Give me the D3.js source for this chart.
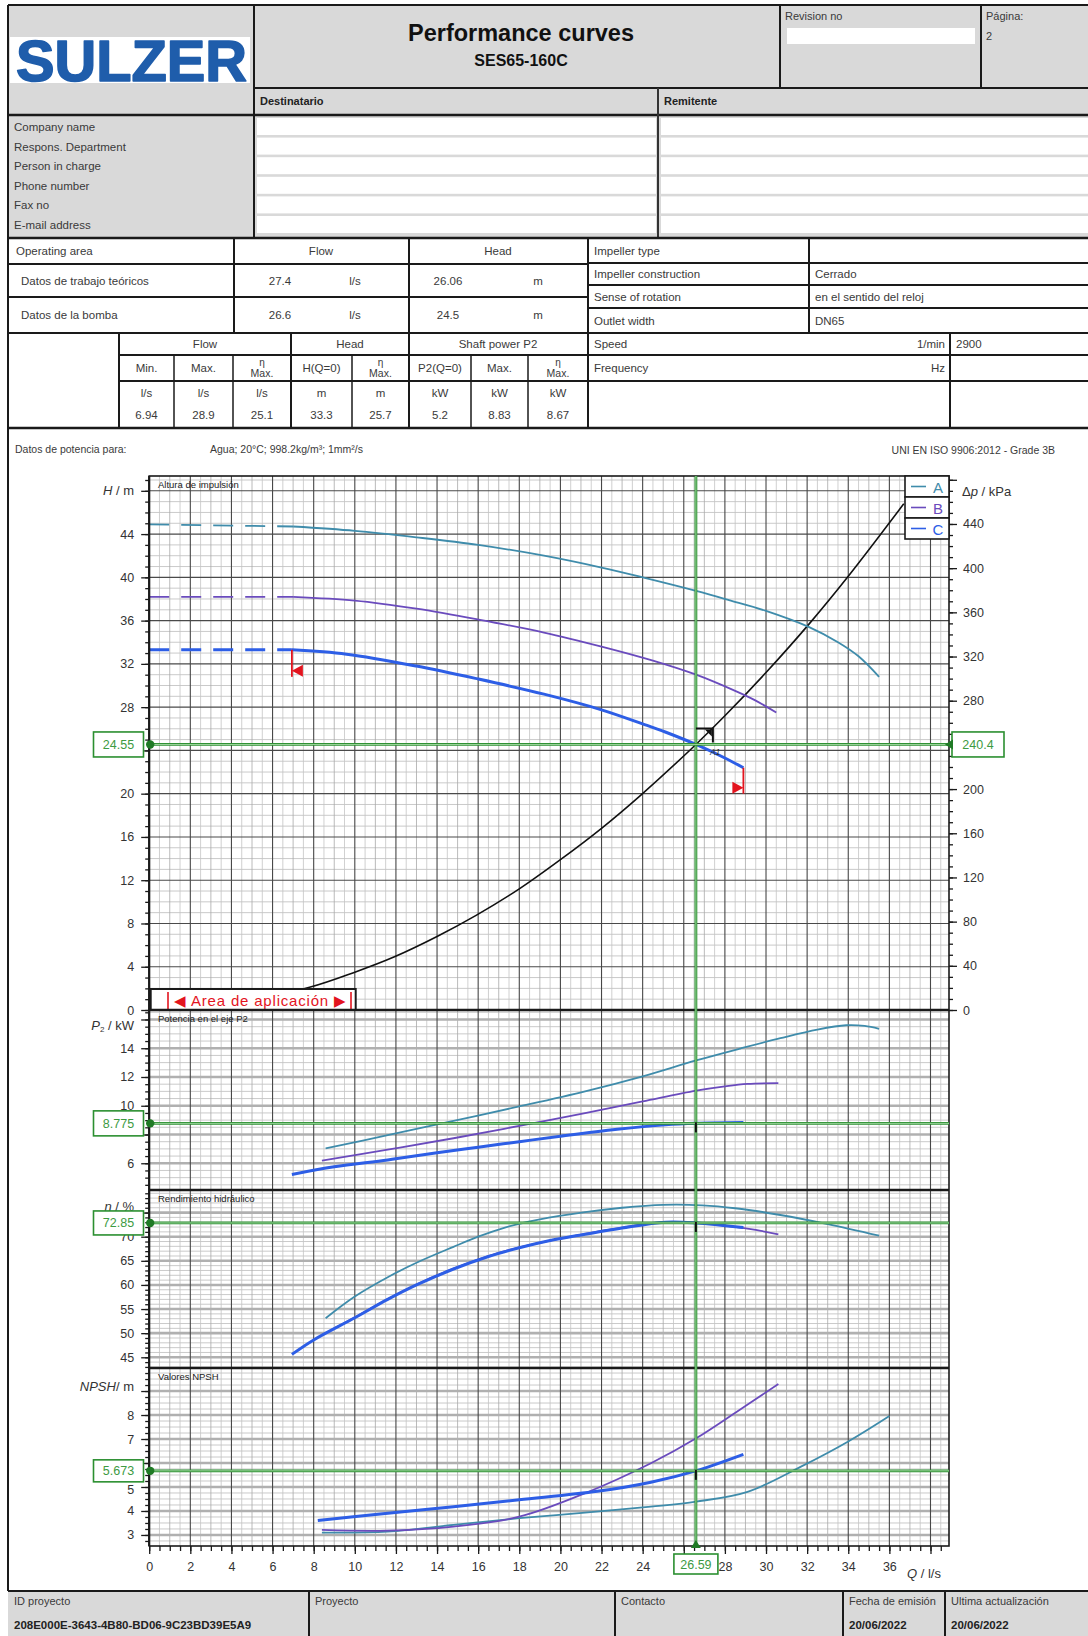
<!DOCTYPE html>
<html>
<head>
<meta charset="utf-8">
<script src="https://cdn.jsdelivr.net/npm/d3@7"></script>
<style>
  body { margin: 0; background: #fff; }
  svg { display: block; }
  text { font-family: "Liberation Sans", Arial, sans-serif; }
</style>
</head>
<body>
<script>
// ---------------- data ----------------
// labelled ticks (labels sitting under a value box are left out)
const flowTicks = [0, 2, 4, 6, 8, 10, 12, 14, 16, 18, 20, 22, 24, 28, 30, 32, 34, 36];
const headTicks = [0, 4, 8, 12, 16, 20, 28, 32, 36, 40, 44];
const dpTicks = [0, 40, 80, 120, 160, 200, 280, 320, 360, 400, 440];
const powerTicks = [6, 10, 12, 14];
const effTicks = [45, 50, 55, 60, 65, 70];
const npshTicks = [3, 4, 5, 7, 8];

const seriesNames = ["A", "B", "C"];
const seriesColors = ["#3f8cab", "#6a4bbd", "#2d5ee6"];

// head curves: shut-off part (dashed) and working range (solid), [Q l/s, H m]
const headShutoffA = [[0, 44.9], [7.0, 44.7]];
const headShutoffB = [[0, 38.2], [7.0, 38.2]];
const headShutoffC = [[0, 33.3], [6.94, 33.3]];
const headA = [[7.0, 44.7], [10, 44.3], [13, 43.7], [16, 43.0], [19.2, 42.0], [22, 40.9], [24, 40.0], [26.6, 38.75], [28.2, 37.9], [30, 36.9], [32.1, 35.4], [33.5, 34.0], [34.5, 32.7], [35.5, 30.8]];
const headB = [[7.0, 38.2], [10, 37.85], [13, 37.1], [16, 36.1], [19.2, 34.9], [22, 33.6], [24.5, 32.3], [26.6, 31.0], [28.5, 29.5], [29.5, 28.6], [30.5, 27.5]];
const headC = [[6.94, 33.3], [9.6, 32.9], [13, 31.8], [16, 30.6], [19.2, 29.2], [22, 27.75], [24, 26.45], [25.1, 25.7], [26.59, 24.55], [28, 23.3], [28.9, 22.4]];

// system curve, [Q l/s, H m]
const systemCurve = [[0, 0], [4, 0.55], [7.8, 2.1], [10, 3.5], [11.9, 4.9], [14, 6.8], [15.9, 8.75], [18, 11.2], [20, 13.9], [22, 16.8], [23.9, 19.85], [26.59, 24.55], [28, 27.2], [30, 31.2], [32.1, 35.7], [34, 40.1], [36.7, 46.8]];

// shaft power P2, [Q l/s, P kW]
const powerA = [[8.58, 7.04], [11.6, 7.95], [14.8, 8.95], [18, 9.95], [21.2, 11.0], [24, 12.05], [26.6, 13.15], [28.8, 14.0], [30.7, 14.7], [32.5, 15.3], [33.9, 15.6], [34.8, 15.55], [35.5, 15.35]];
const powerB = [[8.4, 6.18], [11.6, 6.95], [14.8, 7.74], [18, 8.6], [21.2, 9.48], [24, 10.3], [26.6, 11.05], [28, 11.35], [29.1, 11.52], [30.6, 11.57]];
const powerC = [[6.94, 5.22], [9, 5.75], [11.6, 6.23], [14, 6.73], [16, 7.12], [18, 7.5], [20, 7.88], [22.76, 8.36], [25.1, 8.67], [26.59, 8.775], [28.9, 8.83]];

// hydraulic efficiency, [Q l/s, eta %]
const effA = [[8.58, 53.1], [10, 57.6], [11.6, 61.6], [13, 64.6], [14.8, 67.9], [16, 70.0], [17.3, 71.9], [19, 73.6], [21.2, 75.1], [23, 76.0], [25, 76.6], [26.9, 76.5], [28.5, 75.9], [30.7, 74.5], [33, 72.6], [35.5, 70.2]];
const effB = [[8.4, 49.6], [10, 53.3], [11.6, 57.1], [13, 60.1], [14.8, 63.4], [16.5, 66.0], [18, 67.8], [21.2, 70.6], [23, 71.9], [25, 73.0], [26.6, 72.9], [28, 72.3], [29.5, 71.4], [30.6, 70.5]];
const effC = [[6.94, 45.6], [8, 48.6], [10, 53.2], [11.6, 57.0], [13, 60.0], [14.8, 63.3], [16.5, 65.9], [18, 67.7], [19.5, 69.2], [21.2, 70.5], [23, 71.8], [25.1, 73.0], [26.59, 72.85], [28.9, 71.9]];

// NPSH required, [Q l/s, NPSH m]
const npshA = [[8.4, 3.1], [11.6, 3.14], [14.8, 3.42], [18, 3.7], [21.2, 3.93], [24.4, 4.18], [26.6, 4.39], [29.1, 4.8], [31.7, 5.85], [34, 6.9], [36, 7.96]];
const npshB = [[8.4, 3.21], [11.6, 3.18], [14.8, 3.35], [18, 3.76], [21.2, 4.74], [24.4, 5.99], [26.6, 7.03], [28.6, 8.15], [30.6, 9.29]];
const npshC = [[8.2, 3.6], [11, 3.85], [14.8, 4.18], [18, 4.47], [21.8, 4.82], [24.4, 5.2], [26.59, 5.673], [28.9, 6.36]];

// duty point
const opFlow = 26.59, opHead = 24.55, opDp = 240.4, opPower = 8.775, opEff = 72.85, opNpsh = 5.673;
const minFlow = 6.94, maxFlow = 28.9;

// document texts
const contactFields = ["Company name", "Respons. Department", "Person in charge", "Phone number", "Fax no", "E-mail address"];
const dutyRows = [["Datos de trabajo teóricos", "27.4", "l/s", "26.06", "m"], ["Datos de la bomba", "26.6", "l/s", "24.5", "m"]];
const limitHeads = ["Min.", "Max.", "η|Max.", "H(Q=0)", "η|Max.", "P2(Q=0)", "Max.", "η|Max."];
const limitUnits = ["l/s", "l/s", "l/s", "m", "m", "kW", "kW", "kW"];
const limitValues = ["6.94", "28.9", "25.1", "33.3", "25.7", "5.2", "8.83", "8.67"];
const pumpInfo = [["Impeller type", ""], ["Impeller construction", "Cerrado"], ["Sense of rotation", "en el sentido del reloj"], ["Outlet width", "DN65"]];
const driveInfo = [["Speed", "1/min", "2900"], ["Frequency", "Hz", ""]];
const footerCells = [["ID proyecto", "208E000E-3643-4B80-BD06-9C23BD39E5A9"], ["Proyecto", ""], ["Contacto", ""], ["Fecha de emisión", "20/06/2022"], ["Ultima actualización", "20/06/2022"]];

// ---------------- drawing helpers ----------------
const svg = d3.select("body").append("svg").attr("width", 1088).attr("height", 1636);
const ink = "#1a1a1a";
function rect(g, x, y, w, h, fill, stroke, sw) {
  return g.append("rect").attr("x", x).attr("y", y).attr("width", w).attr("height", h)
    .attr("fill", fill || "none").attr("stroke", stroke || "none").attr("stroke-width", sw || 1);
}
function line(g, x1, y1, x2, y2, stroke, sw) {
  return g.append("line").attr("x1", x1).attr("y1", y1).attr("x2", x2).attr("y2", y2)
    .attr("stroke", stroke || ink).attr("stroke-width", sw || 1);
}
function label(g, x, y, s, size, opts) {
  opts = opts || {};
  return g.append("text").attr("x", x).attr("y", y).text(s)
    .attr("font-size", size).attr("fill", opts.fill || "#3a3a3a")
    .attr("font-weight", opts.bold ? "bold" : null)
    .attr("font-style", opts.italic ? "italic" : null)
    .attr("text-anchor", opts.anchor || "start")
    .attr("dominant-baseline", "central");
}

// ---------------- header ----------------
const hdr = svg.append("g");
rect(hdr, 8, 5, 1090, 233, "#d9d9d9");
rect(hdr, 10, 37, 240, 46, "#ffffff");
hdr.append("text").attr("x", 16).attr("y", 81).text("SULZER")
  .attr("font-family", "'DejaVu Sans', sans-serif").attr("font-weight", "900")
  .attr("font-size", 58).attr("fill", "#1f5dab")
  .attr("stroke", "#1f5dab").attr("stroke-width", 1.6).attr("stroke-linejoin", "round")
  .attr("textLength", 231).attr("lengthAdjust", "spacingAndGlyphs");
label(hdr, 521, 33, "Performance curves", 23.5, { bold: true, anchor: "middle", fill: "#111" });
label(hdr, 521, 60, "SES65-160C", 16, { bold: true, anchor: "middle", fill: "#111" });
label(hdr, 785, 16, "Revision no", 11);
rect(hdr, 787, 28, 188, 16, "#ffffff");
label(hdr, 986, 16, "Página:", 11);
label(hdr, 986, 36, "2", 11);
label(hdr, 260, 101, "Destinatario", 11, { bold: true, fill: "#222" });
label(hdr, 664, 101, "Remitente", 11, { bold: true, fill: "#222" });
contactFields.forEach((f, i) => {
  const y0 = 118 + i * 19.6;
  rect(hdr, 257, y0, 399, 17, "#ffffff");
  rect(hdr, 661, y0, 430, 17, "#ffffff");
  label(hdr, 14, y0 + 9, f, 11.5);
});
line(hdr, 8, 5, 1090, 5, ink, 2);
line(hdr, 8, 5, 8, 238, ink, 2);
line(hdr, 254, 5, 254, 238, ink, 2);
line(hdr, 780, 5, 780, 88, ink, 2);
line(hdr, 981, 5, 981, 88, ink, 2);
line(hdr, 254, 88, 1090, 88, ink, 2);
line(hdr, 8, 115, 1090, 115, ink, 2.5);
line(hdr, 658, 88, 658, 238, "#333", 2);

// ---------------- data table ----------------
const tb = svg.append("g");
rect(tb, 8, 238, 1090, 190, "#ffffff");
const ts = 11.5;
label(tb, 16, 251, "Operating area", ts);
label(tb, 321, 251, "Flow", ts, { anchor: "middle" });
label(tb, 498, 251, "Head", ts, { anchor: "middle" });
dutyRows.forEach((r, i) => {
  const yc = i === 0 ? 280.5 : 315;
  label(tb, 21, yc, r[0], ts);
  label(tb, 280, yc, r[1], ts, { anchor: "middle" });
  label(tb, 355, yc, r[2], ts, { anchor: "middle" });
  label(tb, 448, yc, r[3], ts, { anchor: "middle" });
  label(tb, 538, yc, r[4], ts, { anchor: "middle" });
});
const colEdges = [119, 174, 233, 291, 352, 409, 471, 528, 588];
label(tb, 205, 344, "Flow", ts, { anchor: "middle" });
label(tb, 350, 344, "Head", ts, { anchor: "middle" });
label(tb, 498, 344, "Shaft power P2", ts, { anchor: "middle" });
limitHeads.forEach((h, i) => {
  const cx = (colEdges[i] + colEdges[i + 1]) / 2;
  const parts = h.split("|");
  if (parts.length === 2) {
    label(tb, cx, 362, parts[0], 10, { anchor: "middle" });
    label(tb, cx, 373, parts[1], 10.5, { anchor: "middle" });
  } else {
    label(tb, cx, 368, h, ts, { anchor: "middle" });
  }
  label(tb, cx, 393, limitUnits[i], ts, { anchor: "middle" });
  label(tb, cx, 415, limitValues[i], ts, { anchor: "middle" });
});
const rowY = [239, 263, 285, 308, 333, 355, 381];
pumpInfo.forEach((r, i) => {
  const yc = (rowY[i] + rowY[i + 1]) / 2;
  label(tb, 594, yc, r[0], ts);
  label(tb, 815, yc, r[1], ts);
});
driveInfo.forEach((r, i) => {
  const yc = (rowY[i + 4] + rowY[i + 5]) / 2;
  label(tb, 594, yc, r[0], ts);
  label(tb, 945, yc, r[1], ts, { anchor: "end" });
  label(tb, 956, yc, r[2], ts);
});
// table rules
line(tb, 8, 238, 1090, 238, ink, 2.5);
[264, 297, 333].forEach(y => line(tb, 8, y, 588, y, ink, 2));
[355, 381].forEach(y => line(tb, 119, y, 588, y, ink, 2));
[263, 285, 308, 333, 355, 381].forEach(y => line(tb, 588, y, 1090, y, ink, 2));
line(tb, 8, 428, 1090, 428, ink, 2.5);
line(tb, 234, 238, 234, 333, ink, 2);
line(tb, 409, 238, 409, 428, ink, 2);
line(tb, 588, 238, 588, 428, ink, 2);
line(tb, 119, 333, 119, 428, ink, 2);
line(tb, 291, 333, 291, 428, ink, 2);
[174, 233, 352, 471, 528].forEach(xv => line(tb, xv, 355, xv, 428, ink, 1.5));
line(tb, 809, 238, 809, 333, ink, 2);
line(tb, 950, 333, 950, 428, ink, 2);
line(tb, 8, 238, 8, 1591, ink, 2);

label(svg, 15, 449, "Datos de potencia para:", 10.5);
label(svg, 210, 449, "Agua; 20°C; 998.2kg/m³; 1mm²/s", 10.5);
label(svg, 1055, 450, "UNI EN ISO 9906:2012 - Grade 3B", 10.5, { anchor: "end" });

// ---------------- chart scales ----------------
const x = d3.scaleLinear().domain([0, 38.9]).range([149.2, 949]);
const yH = d3.scaleLinear().domain([0, 49.37]).range([1010, 476]);
const yDp = d3.scaleLinear().domain([0, 49.37 * 9.792]).range([1010, 476]);
const yP = d3.scaleLinear().domain([4.14, 16.66]).range([1190, 1010]);
const yE = d3.scaleLinear().domain([42.78, 79.68]).range([1368, 1190]);
const yN = d3.scaleLinear().domain([2.54, 9.96]).range([1546, 1368]);
const xL = x.range()[0], xR = x.range()[1];

const panels = [
  { y: yH, minor: 1, major: 4, bandMajor: false, ticks: headTicks, title: "Altura de impulsión" },
  { y: yP, minor: 0.5, major: 2, bandMajor: true, ticks: powerTicks, title: "Potencia en el eje P2" },
  { y: yE, minor: 1, major: 5, bandMajor: true, ticks: effTicks, title: "Rendimiento hidráulico" },
  { y: yN, minor: 0.25, major: 1, bandMajor: true, ticks: npshTicks, title: "Valores NPSH" }
];

const grid = svg.append("g");
rect(grid, xL, 476, xR - xL, 1546 - 476, "#ffffff");
panels.forEach(p => {
  const [lo, hi] = p.y.domain();
  const top = p.y.range()[1], bot = p.y.range()[0];
  const vals = d3.range(Math.ceil(lo / p.minor) * p.minor, hi, p.minor).map(v => +v.toFixed(3));
  const isMajor = v => Math.abs(v / p.major - Math.round(v / p.major)) < 1e-6;
  vals.filter(v => !isMajor(v)).forEach(v => line(grid, xL, p.y(v), xR, p.y(v), "#bdbdbd", 0.8));
  d3.range(0.5, 38.9, 0.5).forEach(q => {
    if (q % 2 === 0) return;
    line(grid, x(q), top, x(q), bot, q % 1 === 0 ? "#a8a8a8" : "#c4c4c4", 0.8);
  });
  vals.filter(isMajor).forEach(v => {
    if (p.bandMajor) line(grid, xL, p.y(v), xR, p.y(v), "#b0b0b0", 2.6);
    else line(grid, xL, p.y(v), xR, p.y(v), "#4a4a4a", 1.1);
  });
  d3.range(2, 38.9, 2).forEach(q => line(grid, x(q), top, x(q), bot, "#474747", 1.1));
  label(grid, 158, top + 8, p.title, 9.5, { fill: "#222" });
});

// ---------------- axes ----------------
function styleAxis(g, size, color) {
  g.select(".domain").remove();
  g.selectAll(".tick line").attr("stroke", ink).attr("stroke-width", 1.3);
  g.selectAll(".tick text").attr("font-size", size).attr("fill", color || "#333")
    .attr("font-family", "'Liberation Sans', Arial, sans-serif");
}
const axes = svg.append("g");
panels.forEach(p => {
  const [lo, hi] = p.y.domain();
  const minorVals = d3.range(Math.ceil(lo / p.minor) * p.minor, hi, p.minor);
  const gm = axes.append("g").attr("transform", `translate(${xL},0)`)
    .call(d3.axisLeft(p.y).tickValues(minorVals).tickSize(4).tickFormat(""));
  styleAxis(gm, 12);
  const majorVals = d3.range(Math.ceil(lo / p.major) * p.major, hi, p.major);
  const gM = axes.append("g").attr("transform", `translate(${xL},0)`)
    .call(d3.axisLeft(p.y).tickValues(majorVals).tickSize(8).tickFormat(""));
  styleAxis(gM, 12);
  const gl = axes.append("g").attr("transform", `translate(${xL},0)`)
    .call(d3.axisLeft(p.y).tickValues(p.ticks).tickSize(0).tickPadding(15));
  styleAxis(gl, 12.5);
  // the NPSH "5" sits just under the duty value box
  if (p.y === yN) gl.selectAll(".tick text").filter(d => d === 5).attr("dy", "0.5em");
});
// right pressure axis
const gr1 = axes.append("g").attr("transform", `translate(${xR},0)`)
  .call(d3.axisRight(yDp).tickValues(d3.range(0, 481, 10)).tickSize(4).tickFormat(""));
styleAxis(gr1, 12);
const gr2 = axes.append("g").attr("transform", `translate(${xR},0)`)
  .call(d3.axisRight(yDp).tickValues(d3.range(0, 481, 40)).tickSize(8).tickFormat(""));
styleAxis(gr2, 12);
const gr3 = axes.append("g").attr("transform", `translate(${xR},0)`)
  .call(d3.axisRight(yDp).tickValues(dpTicks).tickSize(0).tickPadding(14));
styleAxis(gr3, 12.5);
// bottom flow axis
const gb1 = axes.append("g").attr("transform", `translate(0,1546)`)
  .call(d3.axisBottom(x).tickValues(d3.range(0, 38.9, 0.5)).tickSize(5).tickFormat(""));
styleAxis(gb1, 12);
const gb2 = axes.append("g").attr("transform", `translate(0,1546)`)
  .call(d3.axisBottom(x).tickValues(d3.range(0, 38.9, 2)).tickSize(8).tickFormat(""));
styleAxis(gb2, 12);
const gb3 = axes.append("g").attr("transform", `translate(0,1546)`)
  .call(d3.axisBottom(x).tickValues(flowTicks).tickSize(0).tickPadding(16));
styleAxis(gb3, 12.5);

// axis titles
function unitLabel(xp, yp, anchor, parts) {
  const t = axes.append("text").attr("x", xp).attr("y", yp).attr("text-anchor", anchor)
    .attr("dominant-baseline", "central").attr("font-size", 13).attr("fill", "#333");
  parts.forEach(pp => {
    const ts = t.append("tspan").text(pp.t);
    if (pp.i) ts.attr("font-style", "italic");
    if (pp.sub) ts.attr("font-size", 8).attr("baseline-shift", "sub");
  });
}
unitLabel(134, yH(48) - 1, "end", [{ t: "H", i: true }, { t: " / m" }]);
unitLabel(962, yH(48), "start", [{ t: "Δ" }, { t: "p", i: true }, { t: " / kPa" }]);
unitLabel(134, yP(15.6), "end", [{ t: "P", i: true }, { t: "2", sub: true }, { t: " / kW" }]);
unitLabel(134, yE(76.3), "end", [{ t: "η", i: true }, { t: " / %" }]);
unitLabel(134, yN(9.22), "end", [{ t: "NPSH", i: true }, { t: "/ m" }]);
unitLabel(924, 1573, "middle", [{ t: "Q", i: true }, { t: " / l/s" }]);

// ---------------- curves ----------------
const curves = svg.append("g");
function drawCurve(data, yScale, color, width, dash) {
  const gen = d3.line().x(d => x(d[0])).y(d => yScale(d[1])).curve(d3.curveCatmullRom.alpha(0.5));
  curves.append("path").datum(data).attr("d", gen).attr("fill", "none")
    .attr("stroke", color).attr("stroke-width", width)
    .attr("stroke-dasharray", dash || null).attr("stroke-linecap", "butt");
}
// system curve
drawCurve(systemCurve, yH, "#111", 1.6);
[[headShutoffA, headA], [headShutoffB, headB], [headShutoffC, headC]].forEach((pair, i) => {
  const w = i === 2 ? 3 : 1.8;
  drawCurve(pair[0], yH, seriesColors[i], w, "20,12");
  drawCurve(pair[1], yH, seriesColors[i], w);
});
[[powerA, effA, npshA], [powerB, effB, npshB], [powerC, effC, npshC]].forEach((set, i) => {
  const w = i === 2 ? 3 : 1.8;
  drawCurve(set[0], yP, seriesColors[i], w);
  drawCurve(set[1], yE, seriesColors[i], w);
  drawCurve(set[2], yN, seriesColors[i], w);
});

// operating range limits on the head curve
const red = "#e3141e";
const hMinStart = headC[0][1], hMaxEnd = headC[headC.length - 1][1];
line(curves, x(minFlow), yH(hMinStart), x(minFlow), yH(hMinStart) + 27, red, 1.8);
curves.append("path").attr("fill", red)
  .attr("d", `M${x(minFlow)},${yH(hMinStart) + 21} L${x(minFlow) + 11},${yH(hMinStart) + 15} L${x(minFlow) + 11},${yH(hMinStart) + 27} Z`);
line(curves, x(maxFlow), yH(hMaxEnd), x(maxFlow), yH(hMaxEnd) + 26, red, 1.8);
curves.append("path").attr("fill", red)
  .attr("d", `M${x(maxFlow)},${yH(hMaxEnd) + 20} L${x(maxFlow) - 11},${yH(hMaxEnd) + 14} L${x(maxFlow) - 11},${yH(hMaxEnd) + 26} Z`);

// application area tag
const ag = svg.append("g");
rect(ag, xL + 1.5, 989, 205, 21, "#ffffff", ink, 2);
ag.append("text").attr("x", 260).attr("y", 1000).attr("text-anchor", "middle")
  .attr("dominant-baseline", "central").attr("font-size", 15).attr("fill", red)
  .attr("font-family", "'Liberation Sans', 'DejaVu Sans', sans-serif")
  .attr("textLength", 172).attr("lengthAdjust", "spacing")
  .text("◀ Area de aplicación ▶");
line(ag, 168, 992, 168, 1009, red, 1.6);
line(ag, 351, 992, 351, 1009, red, 1.6);

// panel frames
const frame = svg.append("g");
rect(frame, xL, 476, xR - xL, 1546 - 476, "none", ink, 1.6);
[1010, 1190, 1368].forEach(y => line(frame, xL, y, xR, y, ink, 2.6));
line(frame, xL, 476, xL, 1546, ink, 2.2);

// legend
const lg = svg.append("g");
seriesNames.forEach((n, i) => {
  const y0 = 476 + i * 21;
  rect(lg, 905, y0, 44, 21, "#ffffff", ink, 1.6);
  line(lg, 911, y0 + 10.5, 926, y0 + 10.5, seriesColors[i], 1.6);
  label(lg, 938, y0 + 11, n, 15, { anchor: "middle", fill: seriesColors[i] });
});

// ---------------- duty point markers ----------------
const green = "#2b8f30";
const mk = svg.append("g");
function greenLine(x1, y1, x2, y2) {
  line(mk, x1, y1, x2, y2, green, 2.8);
  line(mk, x1, y1, x2, y2, "#a9dca9", 0.9);
}
const xo = x(opFlow);
greenLine(xo, 476, xo, 1546);
greenLine(xL, yH(opHead), xR, yH(opHead));
greenLine(xL, yP(opPower), xR, yP(opPower));
greenLine(xL, yE(opEff), xR, yE(opEff));
greenLine(xL, yN(opNpsh), xR, yN(opNpsh));

function valueBox(cx, cy, w, h, s) {
  rect(mk, cx - w / 2, cy - h / 2, w, h, "#ffffff", green, 1.6);
  label(mk, cx, cy + 0.5, s, 12.5, { anchor: "middle", fill: "#3d9a42" });
}
[[yH(opHead), "24.55", 25], [yP(opPower), "8.775", 25], [yE(opEff), "72.85", 24], [yN(opNpsh), "5.673", 22]].forEach(d => {
  valueBox(118.5, d[0], 50, d[2], d[1]);
  mk.append("circle").attr("cx", xL + 1).attr("cy", d[0]).attr("r", 4.2).attr("fill", "#1f7a25");
});
valueBox(978, yDp(opDp), 52, 25, "240.4");
mk.append("path").attr("fill", "#1f7a25")
  .attr("d", `M${xR - 4},${yDp(opDp)} L${xR + 4},${yDp(opDp) - 5} L${xR + 4},${yDp(opDp) + 5} Z`);
valueBox(xo, 1564, 44, 20, "26.59");
mk.append("path").attr("fill", "#1f7a25")
  .attr("d", `M${xo},${1540} L${xo - 5},${1548} L${xo + 5},${1548} Z`);

// duty point symbol on the head curve and ticks on the lower panels
const yo = yH(opHead);
mk.append("path").attr("fill", "none").attr("stroke", "#111").attr("stroke-width", 2)
  .attr("d", `M${xo},${yo - 16} L${xo + 17},${yo - 16} L${xo + 17},${yo - 2}`);
mk.append("path").attr("fill", "#111")
  .attr("d", `M${xo + 9},${yo - 15} L${xo + 16},${yo - 15} L${xo + 16},${yo - 8} Z`);
label(mk, xo + 14, yo + 8, "A1", 8.5, { italic: true, fill: "#333" });
[[yP, opPower], [yE, opEff], [yN, opNpsh]].forEach(d => {
  line(mk, xo, d[0](d[1]) - 1, xo, d[0](d[1]) + 9, "#111", 2);
});

// ---------------- footer ----------------
const ft = svg.append("g");
rect(ft, 8, 1591, 1090, 45, "#d9d9d9");
line(ft, 8, 1591, 1090, 1591, ink, 2);
const footX = [8, 309, 615, 843, 945];
footX.forEach((fx, i) => {
  if (i > 0) line(ft, fx, 1591, fx, 1636, ink, 2);
  label(ft, fx + 6, 1601, footerCells[i][0], 11);
  if (footerCells[i][1]) label(ft, fx + 6, 1625, footerCells[i][1], 11.5, { bold: true, fill: "#222" });
});
</script>
</body>
</html>
